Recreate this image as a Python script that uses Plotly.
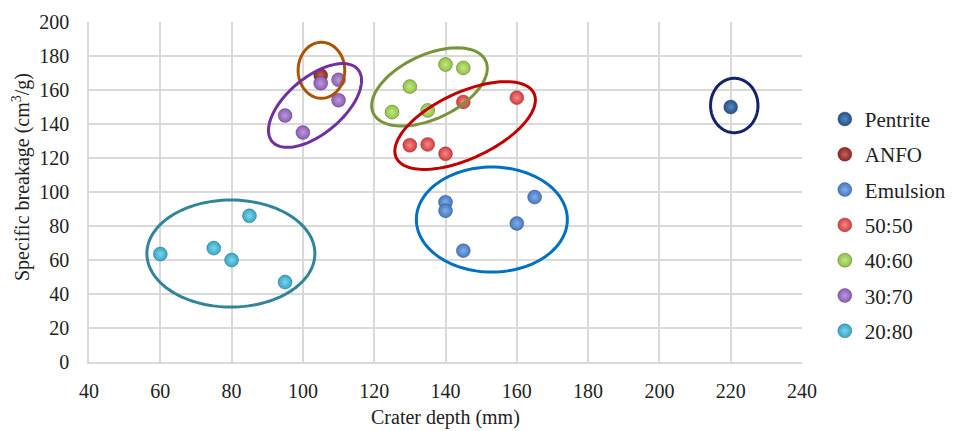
import numpy as np
import plotly.graph_objects as go

# ---------------- data ----------------
series_names = ["Pentrite", "ANFO", "Emulsion", "50:50", "40:60", "30:70", "20:80"]
pentrite_x = [220]
pentrite_y = [150]
anfo_x = [105]
anfo_y = [168.5]
emulsion_x = [140, 140, 145, 160, 165]
emulsion_y = [94, 89, 65.5, 81.5, 97]
s5050_x = [130, 135, 140, 145, 160]
s5050_y = [127.5, 128, 122.5, 153, 155.5]
s4060_x = [125, 130, 135, 140, 145]
s4060_y = [147, 162, 148, 175, 173]
s3070_x = [95, 100, 105, 110, 110]
s3070_y = [145, 135, 164, 166, 154]
s2080_x = [60, 75, 80, 85, 95]
s2080_y = [63.5, 67, 60, 86, 47]

x_ticks = [40, 60, 80, 100, 120, 140, 160, 180, 200, 220, 240]
y_ticks = [0, 20, 40, 60, 80, 100, 120, 140, 160, 180, 200]

marker_colors = ["#22528a", "#8e2420", "#3f78c6", "#d9393b", "#8fc23a", "#8c5ab8", "#2fa8c9"]
marker_hilite = ["#5a86bd", "#c26560", "#86aee3", "#f28a8a", "#c3e68a", "#bb9ad9", "#7fd3ea"]

# grouping ellipses: centre (data), semi-axes (px), tilt (deg), colour
ell_cx = [221.0, 105.2, 103.4, 135.5, 145.5, 153.0, 79.8]
ell_cy = [150.9, 171.6, 150.9, 161.8, 139.1, 83.8, 63.8]
ell_a = [23.7, 23.3, 56, 62, 76, 75.5, 84]
ell_b = [27.2, 28, 28, 32, 33, 52.5, 53.5]
ell_ang = [0, 0, 40, 25, 25, 0, 0]
ell_col = ["#13226b", "#a85400", "#7030a0", "#77933c", "#c00000", "#0070c0", "#31849b"]

# ---------------- layout geometry ----------------
W, H = 955, 423
ml, mr, mt, mb = 81, 161, 14, 69
xr = [40, 240]
yr = [0, 200]
PW = W - ml - mr
PH = H - mt - mb
sx = PW / (xr[1] - xr[0])
sy = PH / (yr[1] - yr[0])

fig = go.Figure()

# ellipses as shapes
t = np.linspace(0, 2 * np.pi, 121)
for cx, cy, a, b, ang, col in zip(ell_cx, ell_cy, ell_a, ell_b, ell_ang, ell_col):
    th = np.deg2rad(ang)
    px = a * np.cos(t) * np.cos(th) - b * np.sin(t) * np.sin(th)
    py = a * np.cos(t) * np.sin(th) + b * np.sin(t) * np.cos(th)
    xs = cx + px / sx
    ys = cy + py / sy
    path = "M " + " L ".join(f"{x:.3f},{y:.3f}" for x, y in zip(xs, ys)) + " Z"
    fig.add_shape(type="path", path=path, xref="x", yref="y",
                  line=dict(color=col, width=3), layer="above")

xs_all = [pentrite_x, anfo_x, emulsion_x, s5050_x, s4060_x, s3070_x, s2080_x]
ys_all = [pentrite_y, anfo_y, emulsion_y, s5050_y, s4060_y, s3070_y, s2080_y]
for i, name in enumerate(series_names):
    fig.add_trace(go.Scatter(
        x=xs_all[i], y=ys_all[i], mode="markers", name=name,
        legendgroup=name,
        marker=dict(size=14, color=marker_colors[i],
                    gradient=dict(type="radial", color=marker_hilite[i]),
                    line=dict(width=0.6, color="rgba(60,60,60,0.6)")),
    ))

font_fam = "Liberation Serif, Times New Roman, serif"
fig.update_layout(
    width=W, height=H,
    margin=dict(l=ml, r=mr, t=mt, b=mb, autoexpand=False),
    paper_bgcolor="white", plot_bgcolor="white",
    font=dict(family=font_fam, size=20, color="#222222"),
    xaxis=dict(range=xr, tickvals=x_ticks, ticktext=[str(v) for v in x_ticks],
               showgrid=True, gridcolor="#d9d9d9", gridwidth=1.5,
               zeroline=False, showline=True, linecolor="#d9d9d9", linewidth=1.5,
               ticks="", tickfont=dict(size=20), ticklabelstandoff=10,
               automargin=False),
    yaxis=dict(range=yr, tickvals=y_ticks, ticktext=[str(v) for v in y_ticks],
               showgrid=True, gridcolor="#d9d9d9", gridwidth=1.5,
               zeroline=False, showline=True, linecolor="#d9d9d9", linewidth=1.5,
               ticks="", tickfont=dict(size=20), ticklabelstandoff=14,
               automargin=False),
    legend=dict(x=1.032, y=0.774, xanchor="left", yanchor="top",
                font=dict(size=21, family=font_fam), tracegroupgap=5,
                bgcolor="rgba(0,0,0,0)"),
)

# axis titles as annotations (positions as in the reference)
fig.add_annotation(text="Specific breakage (cm<sup>3</sup>/g)", textangle=-90,
                   xref="paper", yref="paper", x=(14 - ml) / PW,
                   y=1 - (169 - mt) / PH,
                   xanchor="center", yanchor="middle", showarrow=False,
                   font=dict(size=20, family=font_fam, color="#222222"))
fig.add_annotation(text="Crater depth (mm)",
                   xref="paper", yref="paper", x=0.5,
                   y=-(409 - (mt + PH)) / PH,
                   xanchor="center", yanchor="middle", showarrow=False,
                   font=dict(size=20, family=font_fam, color="#222222"))

fig.write_html("out.html")
